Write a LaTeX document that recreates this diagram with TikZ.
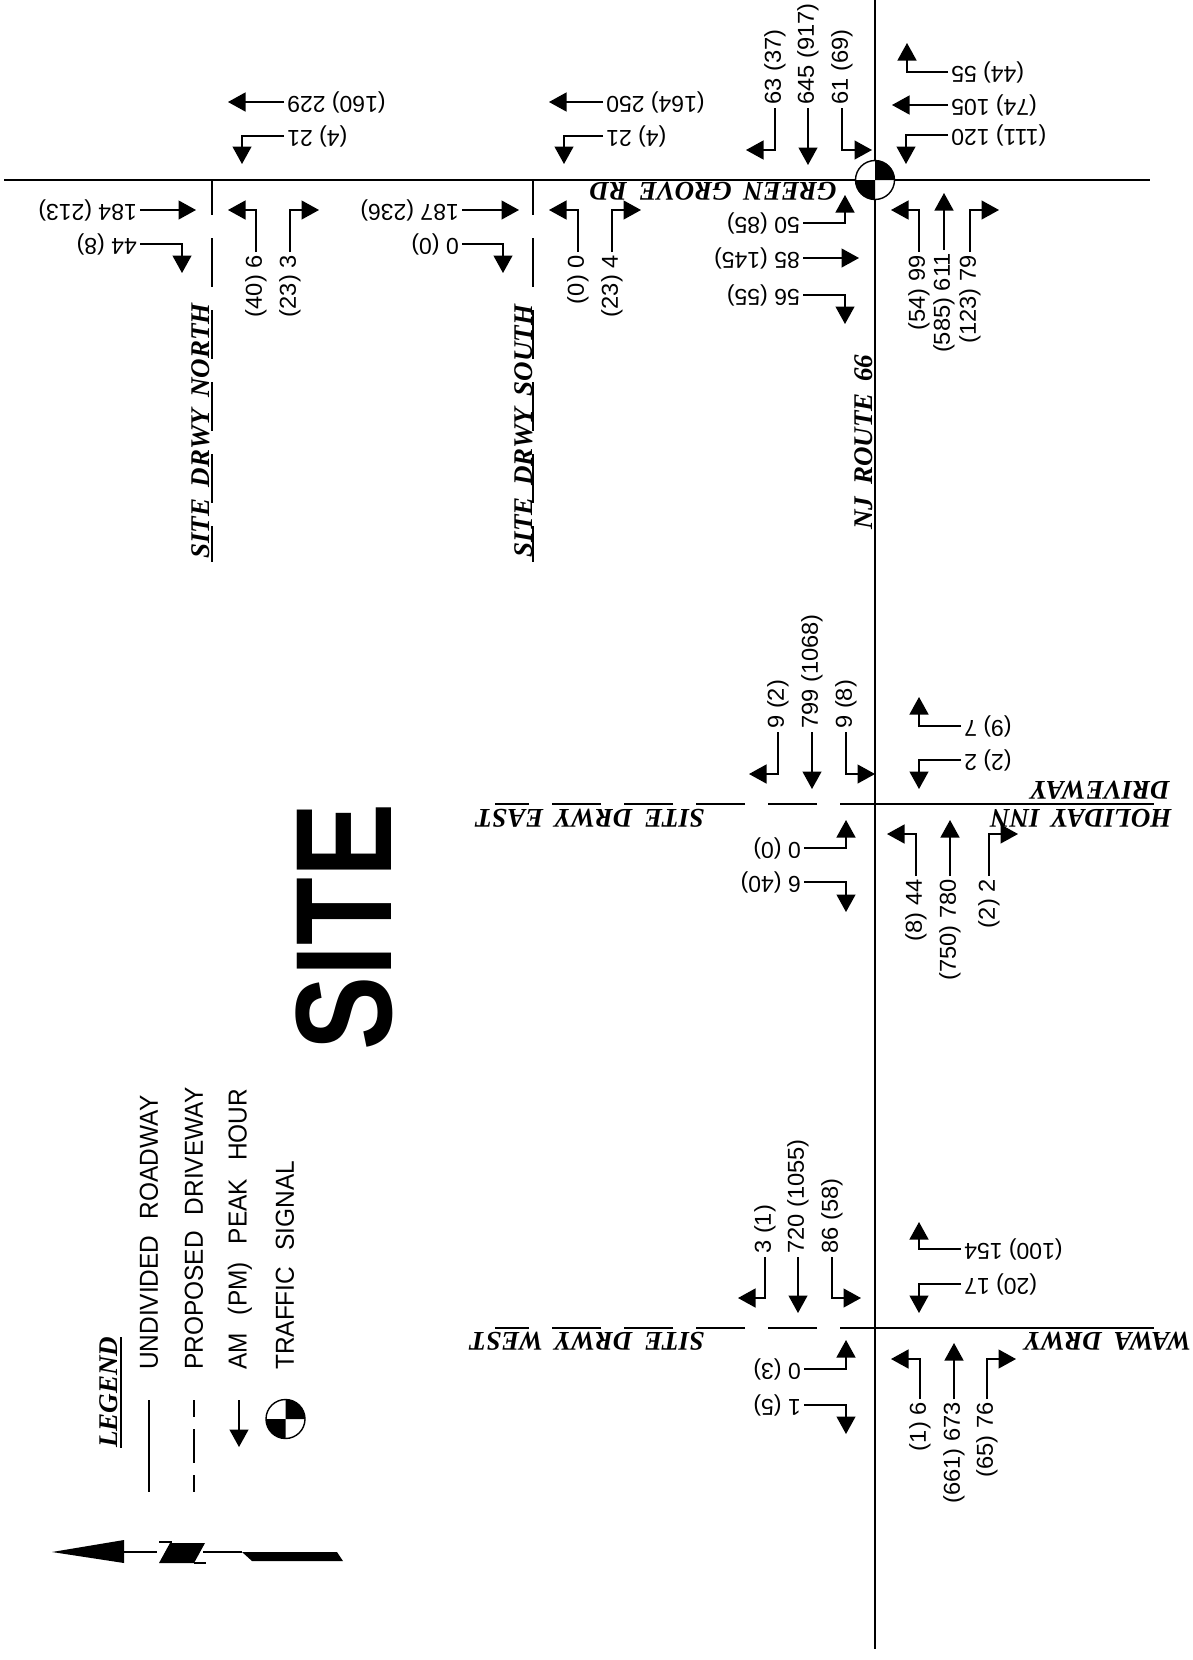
\documentclass[tikz,border=0pt]{standalone}
\usepackage{fontspec}
\setmainfont{Liberation Sans}
\newfontfamily\roadfont{Liberation Serif}[BoldItalicFont={* Bold Italic}]
\usetikzlibrary{arrows.meta}

\begin{document}
\begin{tikzpicture}[
        x=1pt, y=-1pt,
        roadline/.style={line width=2.2pt},
        drwyline/.style={line width=1.6pt, dash pattern=on 49pt off 23pt, dash phase=14pt},
        flow/.style={-{Triangle[length=17.5pt,width=19pt]}, line width=1.3pt},
        vol/.style={font=\fontsize{23}{25}\selectfont, inner sep=3pt},
        volup/.style={vol, rotate=90, xscale=1.03},
        voldown/.style={vol, rotate=180},
        roadname/.style={font=\roadfont\bfseries\itshape\fontsize{27}{30}\selectfont, inner sep=0pt},
        legtext/.style={font=\fontsize{26}{28}\selectfont, rotate=90, anchor=west, inner sep=0pt, xscale=0.94},
        sigmark/.style={circle, draw, line width=1.4pt, fill=white, minimum size=39pt, inner sep=0pt,
            path picture={
                \fill[black] (path picture bounding box.center) -- ++(21pt,0pt) arc[start angle=0, end angle=90, radius=21pt] -- cycle;
                \fill[black] (path picture bounding box.center) -- ++(-21pt,0pt) arc[start angle=180, end angle=270, radius=21pt] -- cycle;
            }},
    ]
        \useasboundingbox (0,0) rectangle (1192,1660);

        % Roads
        \coordinate (routeN) at (875,0);
        \coordinate (routeS) at (875,1649);
        \coordinate (greenW) at (4,180);
        \coordinate (greenE) at (1150,180);
        \draw[roadline] (routeN) -- (routeS);
        \draw[roadline] (greenW) -- (greenE);

        % Driveways
        \coordinate (northT) at (212,180);
        \coordinate (northB) at (212,562);
        \coordinate (southT) at (533,180);
        \coordinate (southB) at (533,562);
        \coordinate (eastR) at (875,804);
        \coordinate (eastL) at (495,804);
        \coordinate (hollyE) at (1154,804);
        \coordinate (westR) at (875,1328);
        \coordinate (westL) at (495,1328);
        \coordinate (wawaE) at (1154,1328);
        \draw[drwyline] (northT) -- (northB);
        \draw[drwyline] (southT) -- (southB);
        \draw[drwyline] (eastR) -- (eastL);
        \draw[drwyline] (westR) -- (westL);
        \draw[roadline] (eastR) -- (hollyE);
        \draw[roadline] (westR) -- (wawaE);

        % Road names
        \node[roadname, rotate=180] (green) at (713,191) {GREEN\hspace{5pt} GROVE\hspace{5pt} RD};
        \node[roadname, rotate=90] (route) at (864,442) {NJ\hspace{5pt} ROUTE\hspace{5pt} 66};
        \node[roadname, rotate=90] (drwyN) at (201,431) {SITE\hspace{5pt} DRWY\hspace{5pt} NORTH};
        \node[roadname, rotate=90] (drwyS) at (524,431) {SITE\hspace{5pt} DRWY\hspace{5pt} SOUTH};
        \node[roadname, rotate=180] (drwyE) at (590,818) {SITE\hspace{5pt} DRWY\hspace{5pt} EAST};
        \node[roadname, rotate=180] (holly) at (1081,818) {HOLIDAY\hspace{5pt} INN};
        \node[roadname, rotate=180, anchor=west] (hollyB) at (1170,790) {DRIVEWAY};
        \node[roadname, rotate=180] (drwyW) at (587,1341) {SITE\hspace{5pt} DRWY\hspace{5pt} WEST};
        \node[roadname, rotate=180] (wawa) at (1108,1341) {WAWA\hspace{5pt} DRWY};

        % Green Grove intersection
        \node[volup, anchor=west] (gN1) at (775,108) {63 (37)};
        \node[volup, anchor=west] (gN2) at (808,108) {645 (917)};
        \node[volup, anchor=west] (gN3) at (842,108) {61 (69)};
        \node[voldown, anchor=east] (gE1) at (948,72) {(44) 55};
        \node[voldown, anchor=east] (gE2) at (948,105) {(74) 105};
        \node[voldown, anchor=east] (gE3) at (948,135) {(111) 120};
        \node[volup, anchor=east] (gS1) at (919,252) {(54) 99};
        \node[volup, anchor=east] (gS2) at (944,250) {(585) 611};
        \node[volup, anchor=east] (gS3) at (970,252) {(123) 79};
        \node[voldown, anchor=west] (gW1) at (803,223) {50 (85)};
        \node[voldown, anchor=west] (gW2) at (803,258) {85 (145)};
        \node[voldown, anchor=west] (gW3) at (803,295) {56 (55)};
        \draw[flow] (gN1.west) |- (746,150);
        \draw[flow] (gN2.west) -- (808,165);
        \draw[flow] (gN3.west) |- (872,150);
        \draw[flow] (gE1.east) -| (907,43);
        \draw[flow] (gE2.east) -- (892,105);
        \draw[flow] (gE3.east) -| (906,164);
        \draw[flow] (gS1.east) |- (891,210);
        \draw[flow] (gS2.east) -- (944,193);
        \draw[flow] (gS3.east) |- (999,210);
        \draw[flow] (gW1.west) -| (845,195);
        \draw[flow] (gW2.west) -- (859,258);
        \draw[flow] (gW3.west) -| (845,324);
        \node[sigmark] (sigG) at (875,180) {};

        % Site driveway north
        \node[voldown, anchor=east] (nE1) at (284,102) {(160) 229};
        \node[voldown, anchor=east] (nE2) at (284,136) {(4) 21};
        \node[volup, anchor=east] (nS1) at (256,252) {(40) 6};
        \node[volup, anchor=east] (nS2) at (290,252) {(23) 3};
        \node[voldown, anchor=west] (nW1) at (140,210) {184 (213)};
        \node[voldown, anchor=west] (nW2) at (140,244) {44 (8)};
        \draw[flow] (nE1.east) -- (228,102);
        \draw[flow] (nE2.east) -| (242,164);
        \draw[flow] (nS1.east) |- (228,210);
        \draw[flow] (nS2.east) |- (319,210);
        \draw[flow] (nW1.west) -- (196,210);
        \draw[flow] (nW2.west) -| (182,273);

        % Site driveway south
        \node[voldown, anchor=east] (sE1) at (603,102) {(164) 250};
        \node[voldown, anchor=east] (sE2) at (603,136) {(4) 21};
        \node[volup, anchor=east] (sS1) at (578,252) {(0) 0};
        \node[volup, anchor=east] (sS2) at (612,252) {(23) 4};
        \node[voldown, anchor=west] (sW1) at (462,210) {187 (236)};
        \node[voldown, anchor=west] (sW2) at (462,244) {0 (0)};
        \draw[flow] (sE1.east) -- (549,102);
        \draw[flow] (sE2.east) -| (564,164);
        \draw[flow] (sS1.east) |- (549,210);
        \draw[flow] (sS2.east) |- (641,210);
        \draw[flow] (sW1.west) -- (519,210);
        \draw[flow] (sW2.west) -| (503,273);

        % Holiday Inn intersection
        \node[volup, anchor=west] (hN1) at (778,732) {9 (2)};
        \node[volup, anchor=west] (hN2) at (812,732) {799 (1068)};
        \node[volup, anchor=west] (hN3) at (846,732) {9 (8)};
        \node[voldown, anchor=east] (hE1) at (961,726) {(9) 7};
        \node[voldown, anchor=east] (hE2) at (961,760) {(2) 2};
        \node[volup, anchor=east] (hS1) at (916,876) {(8) 44};
        \node[volup, anchor=east] (hS2) at (950,876) {(750) 780};
        \node[volup, anchor=east] (hS3) at (989,876) {(2) 2};
        \node[voldown, anchor=west] (hW1) at (804,848) {0 (0)};
        \node[voldown, anchor=west] (hW2) at (804,882) {6 (40)};
        \draw[flow] (hN1.west) |- (749,774);
        \draw[flow] (hN2.west) -- (812,789);
        \draw[flow] (hN3.west) |- (875,774);
        \draw[flow] (hE1.east) -| (919,697);
        \draw[flow] (hE2.east) -| (919,789);
        \draw[flow] (hS1.east) |- (887,834);
        \draw[flow] (hS2.east) -- (950,820);
        \draw[flow] (hS3.east) |- (1018,834);
        \draw[flow] (hW1.west) -| (846,820);
        \draw[flow] (hW2.west) -| (846,912);

        % Wawa intersection
        \node[volup, anchor=west] (wN1) at (765,1257) {3 (1)};
        \node[volup, anchor=west] (wN2) at (798,1257) {720 (1055)};
        \node[volup, anchor=west] (wN3) at (832,1257) {86 (58)};
        \node[voldown, anchor=east] (wE1) at (961,1249) {(100) 154};
        \node[voldown, anchor=east] (wE2) at (961,1284) {(20) 17};
        \node[volup, anchor=east] (wS1) at (920,1399) {(1) 6};
        \node[volup, anchor=east] (wS2) at (954,1399) {(661) 673};
        \node[volup, anchor=east] (wS3) at (987,1399) {(65) 76};
        \node[voldown, anchor=west] (wW1) at (804,1369) {0 (3)};
        \node[voldown, anchor=west] (wW2) at (804,1405) {1 (5)};
        \draw[flow] (wN1.west) |- (738,1298);
        \draw[flow] (wN2.west) -- (798,1313);
        \draw[flow] (wN3.west) |- (861,1298);
        \draw[flow] (wE1.east) -| (919,1222);
        \draw[flow] (wE2.east) -| (919,1313);
        \draw[flow] (wS1.east) |- (891,1359);
        \draw[flow] (wS2.east) -- (954,1343);
        \draw[flow] (wS3.east) |- (1016,1359);
        \draw[flow] (wW1.west) -| (846,1340);
        \draw[flow] (wW2.west) -| (846,1434);

        % Site label
        \node[rotate=90, xscale=0.81, font=\bfseries\fontsize{137}{140}\selectfont, inner sep=0pt] (site) at (344,927) {SITE};

        % Legend
        \node[roadname, rotate=90] (legend) at (109,1392) {LEGEND};
        \coordinate (legUT) at (121,1337);
        \coordinate (legUB) at (121,1448);
        \draw[line width=1.2pt] (legUT) -- (legUB);
        \node[legtext] (legA) at (149,1370) {UNDIVIDED\hspace{10pt} ROADWAY};
        \node[legtext] (legB) at (194,1370) {PROPOSED\hspace{10pt} DRIVEWAY};
        \node[legtext] (legC) at (240,1370) {AM\hspace{12pt} (PM)\hspace{12pt} PEAK\hspace{12pt} HOUR};
        \node[legtext] (legD) at (285,1370) {TRAFFIC\hspace{10pt} SIGNAL};
        \coordinate (keyA1) at (149,1400);
        \coordinate (keyA2) at (149,1492);
        \coordinate (keyB1) at (194,1400);
        \coordinate (keyB2) at (194,1492);
        \coordinate (keyC1) at (239,1400);
        \coordinate (keyC2) at (239,1447);
        \draw[line width=1.3pt] (keyA1) -- (keyA2);
        \draw[line width=1.3pt, dash pattern=on 34pt off 12pt, dash phase=17pt] (keyB1) -- (keyB2);
        \draw[flow] (keyC1) -- (keyC2);
        \node[sigmark] (sigL) at (285.5,1419) {};

        % North arrow
        \fill (52,1552) -- (124,1540) -- (124,1563) -- cycle;
        \draw[line width=1.3pt] (124,1552) -- (157,1552);
        \fill (159,1563) -- (170,1543) -- (205,1543) -- (194,1563) -- cycle;
        \draw[line width=1.3pt] (159,1542) -- (172,1542);
        \draw[line width=1.3pt] (194,1563) -- (206,1563);
        \draw[line width=1.3pt] (203,1552) -- (242,1552);
        \fill (242,1552) -- (337,1552) -- (343,1561) -- (252,1561) -- cycle;
    \end{tikzpicture}
\end{document}
